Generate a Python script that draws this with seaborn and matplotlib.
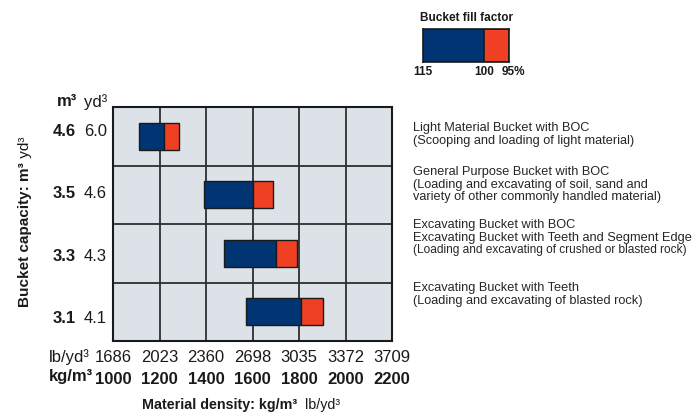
import matplotlib
matplotlib.use("Agg")
import matplotlib.pyplot as plt
from matplotlib.transforms import blended_transform_factory
import seaborn as sns


CAPACITY_M3 = ["4.6", "3.5", "3.3", "3.1"]
CAPACITY_YD3 = ["6.0", "4.6", "4.3", "4.1"]
DENSITY_AT_115 = [1112, 1393, 1479, 1573]
DENSITY_AT_100 = [1221, 1603, 1700, 1810]
DENSITY_AT_95 = [1284, 1687, 1790, 1905]
KG_TICKS = [1000, 1200, 1400, 1600, 1800, 2000, 2200]
LB_TICKS = [1686, 2023, 2360, 2698, 3035, 3372, 3709]
FILL_FACTORS = [115, 100, 95]
FILL_LABELS = ["115", "100", "95%"]
DESCRIPTIONS = [
    ["Light Material Bucket with BOC",
     "(Scooping and loading of light material)"],
    ["General Purpose Bucket with BOC",
     "(Loading and excavating of soil, sand and",
     "variety of other commonly handled material)"],
    ["Excavating Bucket with BOC",
     "Excavating Bucket with Teeth and Segment Edge",
     "(Loading and excavating of crushed or blasted rock)"],
    ["Excavating Bucket with Teeth",
     "(Loading and excavating of blasted rock)"],
]

BLUE = "#003473"
RED = "#f04023"
PANEL = "#dce2e8"
INK = "#1a1a1a"
W, H = 700, 416
DESC_TOPS = [122, 166, 219, 282]
LINE_PITCH = 12.7
ROW_LABEL_Y = [131.5, 193.5, 256.5, 318.5]


def fx(px):
    return px / W


def fy(py):
    return 1 - py / H


def main() -> None:
    sns.set_theme(style="white")
    plt.rcParams["font.family"] = ["Liberation Sans", "DejaVu Sans"]

    fig = plt.figure(figsize=(7, 4.16), dpi=100)
    ax = fig.add_axes([fx(113), fy(341), fx(392 - 113), (341 - 107) / H])
    ax.set_facecolor(PANEL)

    rows = list(range(len(CAPACITY_M3)))
    blue_w = [b - a for a, b in zip(DENSITY_AT_115, DENSITY_AT_100)]
    red_w = [b - a for a, b in zip(DENSITY_AT_100, DENSITY_AT_95)]
    ax.barh(rows, blue_w, left=DENSITY_AT_115, height=0.46, color=BLUE,
            edgecolor=INK, linewidth=1, zorder=3)
    ax.barh(rows, red_w, left=DENSITY_AT_100, height=0.46, color=RED,
            edgecolor=INK, linewidth=1, zorder=3)

    ax.set_xlim(KG_TICKS[0], KG_TICKS[-1])
    ax.set_ylim(len(rows) - 0.5, -0.5)
    ax.set_xticks(KG_TICKS)
    ax.set_xticklabels([str(v) for v in KG_TICKS], fontweight="bold", fontsize=12)
    ax.set_yticks([])
    ax.set_yticks([r + 0.5 for r in rows[:-1]], minor=True)
    ax.tick_params(axis="x", length=0, pad=22, colors=INK)
    ax.tick_params(which="minor", length=0)
    ax.grid(True, axis="x", which="major", color="#2e2e2e", linewidth=1.3, zorder=1)
    ax.grid(True, axis="y", which="minor", color="#2e2e2e", linewidth=1.3, zorder=1)
    for sp in ax.spines.values():
        sp.set_color(INK)
        sp.set_linewidth(1.5)

    # second row of x labels (lb/yd3)
    xb = blended_transform_factory(ax.transData, fig.transFigure)
    for kg, lb in zip(KG_TICKS, LB_TICKS):
        ax.text(kg, fy(357), str(lb), transform=xb, ha="center", va="center",
                fontsize=12, color=INK)
    fig.text(fx(90), fy(357), "lb/yd³", ha="right", va="center", fontsize=12, color=INK)
    fig.text(fx(93), fy(377), "kg/m³", ha="right", va="center", fontsize=12,
             fontweight="bold", color=INK)

    # y labels: m3 (bold) and yd3 columns
    for y, m3, yd3 in zip(ROW_LABEL_Y, CAPACITY_M3, CAPACITY_YD3):
        fig.text(fx(76), fy(y), m3, ha="right", va="center", fontsize=12,
                 fontweight="bold", color=INK)
        fig.text(fx(107), fy(y), yd3, ha="right", va="center", fontsize=12, color=INK)
    fig.text(fx(77), fy(102), "m³", ha="right", va="center", fontsize=12,
             fontweight="bold", color=INK)
    fig.text(fx(107), fy(102), "yd³", ha="right", va="center", fontsize=12, color=INK)

    # axis titles
    ylab = fig.text(fx(25), fy(307), "Bucket capacity: m³", rotation=90,
                    ha="center", va="bottom", fontsize=11, fontweight="bold", color=INK)
    ax.annotate(" yd³", xy=(0.5, 1), xycoords=ylab, rotation=90, ha="center",
                va="bottom", fontsize=11, color=INK)
    xlab = fig.text(fx(142), fy(405), "Material density: kg/m³", ha="left",
                    va="center", fontsize=10.3, fontweight="bold", color=INK)
    ax.annotate("  lb/yd³", xy=(1, 0.5), xycoords=xlab, ha="left", va="center",
                fontsize=10.3, color=INK)

    # descriptions
    for top, lines in zip(DESC_TOPS, DESCRIPTIONS):
        for i, line in enumerate(lines):
            size = 8.6 if len(line) > 46 else 9.2
            fig.text(fx(413), fy(top + i * LINE_PITCH), line, ha="left", va="top",
                     fontsize=size, color="#262626")

    # fill factor legend
    lax = fig.add_axes([fx(423), fy(62), fx(509 - 423), 33 / H])
    pos = [100 / f for f in FILL_FACTORS]
    lax.barh([0], [pos[1] - pos[0]], left=[pos[0]], height=1, color=BLUE,
             edgecolor=INK, linewidth=1.2)
    lax.barh([0], [pos[2] - pos[1]], left=[pos[1]], height=1, color=RED,
             edgecolor=INK, linewidth=1.2)
    lax.set_xlim(pos[0], pos[2])
    lax.set_ylim(-0.5, 0.5)
    lax.set_xticks([])
    lax.set_yticks([])
    for sp in lax.spines.values():
        sp.set_color(INK)
        sp.set_linewidth(1.2)
    lb = blended_transform_factory(lax.transData, fig.transFigure)
    for p, lab in zip(pos, FILL_LABELS):
        shift = 4 if lab.endswith("%") else 0
        lax.annotate(lab, xy=(p, fy(72)), xycoords=lb, xytext=(shift, 0),
                     textcoords="offset pixels", ha="center", va="center",
                     fontsize=8.5, fontweight="bold", color=INK)
    fig.text(fx(466), fy(18), "Bucket fill factor", ha="center", va="center",
             fontsize=8.5, fontweight="bold", color=INK)

    fig.savefig("out.png", dpi=100, facecolor="white")
    plt.close(fig)


if __name__ == "__main__":
    main()
